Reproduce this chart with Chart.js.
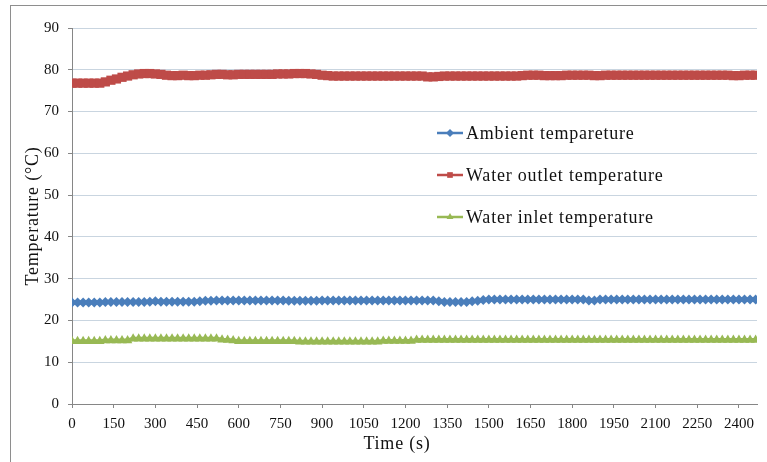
<!DOCTYPE html>
<html>
<head>
<meta charset="utf-8">
<title>Temperature vs time</title>
<script src="https://cdn.jsdelivr.net/npm/chart.js@4.4.0/dist/chart.umd.min.js"></script>
<style>
    html, body { margin: 0; padding: 0; background: #fff; overflow: hidden; }
    #wrap { position: relative; width: 767px; height: 462px; }
    #frame {
        position: absolute; left: 10px; top: 5px;
        width: 800px; height: 500px;
        border: 1px solid #8e8e8e;
        pointer-events: none;
    }
</style>
</head>
<body>
<div id="wrap">
    <canvas id="chartTemp" width="767" height="462"></canvas>
    <div id="frame"></div>
</div>
<script>
// ============== DATA ==============

// time (s), one reading every 20 s
const times = [
    0, 20, 40, 60, 80, 100, 120, 140, 160, 180,
    200, 220, 240, 260, 280, 300, 320, 340, 360, 380,
    400, 420, 440, 460, 480, 500, 520, 540, 560, 580,
    600, 620, 640, 660, 680, 700, 720, 740, 760, 780,
    800, 820, 840, 860, 880, 900, 920, 940, 960, 980,
    1000, 1020, 1040, 1060, 1080, 1100, 1120, 1140, 1160, 1180,
    1200, 1220, 1240, 1260, 1280, 1300, 1320, 1340, 1360, 1380,
    1400, 1420, 1440, 1460, 1480, 1500, 1520, 1540, 1560, 1580,
    1600, 1620, 1640, 1660, 1680, 1700, 1720, 1740, 1760, 1780,
    1800, 1820, 1840, 1860, 1880, 1900, 1920, 1940, 1960, 1980,
    2000, 2020, 2040, 2060, 2080, 2100, 2120, 2140, 2160, 2180,
    2200, 2220, 2240, 2260, 2280, 2300, 2320, 2340, 2360, 2380,
    2400, 2420, 2440, 2460
];

const ambientTemp = [
    24.3, 24.3, 24.3, 24.3, 24.3, 24.3, 24.4, 24.4, 24.4, 24.4,
    24.4, 24.4, 24.4, 24.4, 24.5, 24.6, 24.5, 24.5, 24.5, 24.5,
    24.5, 24.5, 24.5, 24.6, 24.7, 24.7, 24.8, 24.8, 24.8, 24.8,
    24.8, 24.8, 24.8, 24.8, 24.8, 24.8, 24.8, 24.8, 24.8, 24.7,
    24.7, 24.7, 24.7, 24.7, 24.7, 24.8, 24.8, 24.8, 24.8, 24.8,
    24.8, 24.8, 24.8, 24.8, 24.8, 24.8, 24.8, 24.8, 24.8, 24.8,
    24.8, 24.8, 24.8, 24.8, 24.8, 24.8, 24.6, 24.4, 24.4, 24.4,
    24.4, 24.4, 24.6, 24.7, 24.9, 25.0, 25.0, 25.0, 25.0, 25.0,
    25.0, 25.0, 25.0, 25.0, 25.0, 25.0, 25.0, 25.0, 25.0, 25.0,
    25.0, 25.0, 25.0, 24.8, 24.8, 25.0, 25.0, 25.0, 25.0, 25.0,
    25.0, 25.0, 25.0, 25.0, 25.0, 25.0, 25.0, 25.0, 25.0, 25.0,
    25.0, 25.0, 25.0, 25.0, 25.0, 25.0, 25.0, 25.0, 25.0, 25.0,
    25.0, 25.0, 25.0, 25.0
];

const outletTemp = [
    76.8, 76.8, 76.8, 76.8, 76.8, 76.8, 77.1, 77.5, 77.8, 78.2,
    78.5, 78.8, 79.0, 79.1, 79.1, 79.0, 78.9, 78.7, 78.6, 78.6,
    78.7, 78.6, 78.6, 78.7, 78.7, 78.8, 78.9, 78.9, 78.8, 78.8,
    78.9, 78.9, 78.9, 78.9, 78.9, 78.9, 78.9, 79.0, 79.0, 79.0,
    79.1, 79.1, 79.1, 79.0, 78.9, 78.7, 78.6, 78.5, 78.5, 78.5,
    78.5, 78.5, 78.5, 78.5, 78.5, 78.5, 78.5, 78.5, 78.5, 78.5,
    78.5, 78.5, 78.5, 78.5, 78.3, 78.3, 78.4, 78.5, 78.5, 78.5,
    78.5, 78.5, 78.5, 78.5, 78.5, 78.5, 78.5, 78.5, 78.5, 78.5,
    78.5, 78.6, 78.7, 78.7, 78.7, 78.6, 78.6, 78.6, 78.6, 78.7,
    78.7, 78.7, 78.7, 78.7, 78.6, 78.6, 78.7, 78.7, 78.7, 78.7,
    78.7, 78.7, 78.7, 78.7, 78.7, 78.7, 78.7, 78.7, 78.7, 78.7,
    78.7, 78.7, 78.7, 78.7, 78.7, 78.7, 78.7, 78.7, 78.7, 78.6,
    78.6, 78.7, 78.7, 78.7
];

const inletTemp = [
    15.0, 15.0, 15.0, 15.0, 15.0, 15.0, 15.2, 15.2, 15.2, 15.2,
    15.2, 15.6, 15.6, 15.6, 15.6, 15.6, 15.6, 15.6, 15.6, 15.6,
    15.6, 15.6, 15.6, 15.6, 15.6, 15.6, 15.6, 15.4, 15.3, 15.2,
    15.0, 15.0, 15.0, 15.0, 15.0, 15.0, 15.0, 15.0, 15.0, 15.0,
    15.0, 14.9, 14.9, 14.9, 14.9, 14.9, 14.9, 14.9, 14.9, 14.9,
    14.9, 14.9, 14.9, 14.9, 14.9, 14.9, 15.1, 15.1, 15.1, 15.1,
    15.1, 15.1, 15.3, 15.3, 15.3, 15.3, 15.3, 15.3, 15.3, 15.3,
    15.3, 15.3, 15.3, 15.3, 15.3, 15.3, 15.3, 15.3, 15.3, 15.3,
    15.3, 15.3, 15.3, 15.3, 15.3, 15.3, 15.3, 15.3, 15.3, 15.3,
    15.3, 15.3, 15.3, 15.3, 15.3, 15.3, 15.3, 15.3, 15.3, 15.3,
    15.3, 15.3, 15.3, 15.3, 15.3, 15.3, 15.3, 15.3, 15.3, 15.3,
    15.3, 15.3, 15.3, 15.3, 15.3, 15.3, 15.3, 15.3, 15.3, 15.3,
    15.3, 15.3, 15.3, 15.3
];

const seriesLabels = ['Ambient tempareture', 'Water outlet temperature', 'Water inlet temperature'];
const xTitle = 'Time (s)';
const yTitle = 'Temperature (\u00B0C)';

// ============== STYLE ==============

const FONT = "'Liberation Serif', 'Times New Roman', serif";
const AXIS_GREY = '#868686';
const GRID_BLUE = '#c9d5e0';

function toPoints(values) {
    return values.map((v, i) => ({ x: times[i], y: v }));
}

// legend drawn inside the plot, like the Excel original
const insideLegend = {
    id: 'insideLegend',
    afterDatasetsDraw(chart) {
        const ctx = chart.ctx;
        const x0 = 437, y0 = 133, gap = 42;
        chart.data.datasets.forEach((ds, i) => {
            const y = y0 + i * gap;
            ctx.save();
            ctx.strokeStyle = ds.borderColor;
            ctx.lineWidth = 2.5;
            ctx.beginPath();
            ctx.moveTo(x0, y);
            ctx.lineTo(x0 + 26, y);
            ctx.stroke();
            ctx.fillStyle = ds.pointBackgroundColor;
            ctx.strokeStyle = ds.pointBackgroundColor;
            Chart.helpers.drawPoint(ctx, {
                pointStyle: ds.pointStyle, radius: 4, borderWidth: 0, rotation: 0
            }, x0 + 13, y);
            ctx.fillStyle = '#111';
            ctx.font = '18px ' + FONT;
            ctx.letterSpacing = '0.8px';
            ctx.textBaseline = 'middle';
            ctx.textAlign = 'left';
            ctx.fillText(ds.label, x0 + 29, y + 1);
            ctx.restore();
        });
    }
};

// axis titles placed by hand (x title is centred on the whole frame)
const axisTitles = {
    id: 'axisTitles',
    afterDraw(chart) {
        const ctx = chart.ctx;
        const area = chart.chartArea;
        ctx.save();
        ctx.fillStyle = '#111';
        ctx.font = '18px ' + FONT;
        ctx.letterSpacing = '0.8px';
        ctx.textAlign = 'center';
        ctx.textBaseline = 'middle';
        ctx.fillText(xTitle, 397, 444);
        ctx.translate(33, (area.top + area.bottom) / 2);
        ctx.rotate(-Math.PI / 2);
        ctx.fillText(yTitle, 0, 0);
        ctx.restore();
    }
};

// ============== CHART ==============

function initChartTemp() {
    const ctx = document.getElementById('chartTemp').getContext('2d');

    new Chart(ctx, {
        type: 'line',
        data: {
            datasets: [
                {
                    label: seriesLabels[0],
                    data: toPoints(ambientTemp),
                    borderColor: '#4a7ebb',
                    backgroundColor: '#4a7ebb',
                    pointBackgroundColor: '#4a7ebb',
                    pointBorderColor: '#4a7ebb',
                    pointStyle: 'rectRot',
                    pointRadius: 5,
                    pointBorderWidth: 0,
                    borderWidth: 4
                },
                {
                    label: seriesLabels[1],
                    data: toPoints(outletTemp),
                    borderColor: '#be4b48',
                    backgroundColor: '#be4b48',
                    pointBackgroundColor: '#be4b48',
                    pointBorderColor: '#be4b48',
                    pointStyle: 'rect',
                    pointRadius: 6.5,
                    pointBorderWidth: 0,
                    borderWidth: 5
                },
                {
                    label: seriesLabels[2],
                    data: toPoints(inletTemp),
                    borderColor: '#98b954',
                    backgroundColor: '#98b954',
                    pointBackgroundColor: '#98b954',
                    pointBorderColor: '#98b954',
                    pointStyle: 'triangle',
                    pointRadius: 5.5,
                    pointBorderWidth: 0,
                    borderWidth: 4
                }
            ]
        },
        options: {
            responsive: false,
            animation: false,
            layout: { padding: { left: 10, right: 10, top: 28, bottom: 0 } },
            plugins: {
                legend: { display: false },
                tooltip: { enabled: false }
            },
            scales: {
                x: {
                    type: 'linear',
                    min: 0,
                    max: 2465,
                    afterFit: (scale) => { scale.height = 58; },
                    ticks: {
                        stepSize: 150,
                        includeBounds: false,
                        maxRotation: 0,
                        autoSkip: false,
                        padding: 7,
                        color: '#111',
                        font: { family: FONT, size: 15 },
                        callback: (value) => String(value)
                    },
                    grid: {
                        drawOnChartArea: false,
                        tickLength: 4,
                        tickColor: AXIS_GREY
                    },
                    border: { color: AXIS_GREY, width: 1 }
                },
                y: {
                    min: 0,
                    max: 90,
                    afterFit: (scale) => { scale.width = 62; },
                    ticks: {
                        stepSize: 10,
                        padding: 9,
                        color: '#111',
                        font: { family: FONT, size: 15 }
                    },
                    grid: {
                        color: GRID_BLUE,
                        tickLength: 4,
                        tickColor: AXIS_GREY
                    },
                    border: { color: AXIS_GREY, width: 1 }
                }
            }
        },
        plugins: [insideLegend, axisTitles]
    });
}

document.addEventListener('DOMContentLoaded', function () {
    initChartTemp();
});
</script>
</body>
</html>
